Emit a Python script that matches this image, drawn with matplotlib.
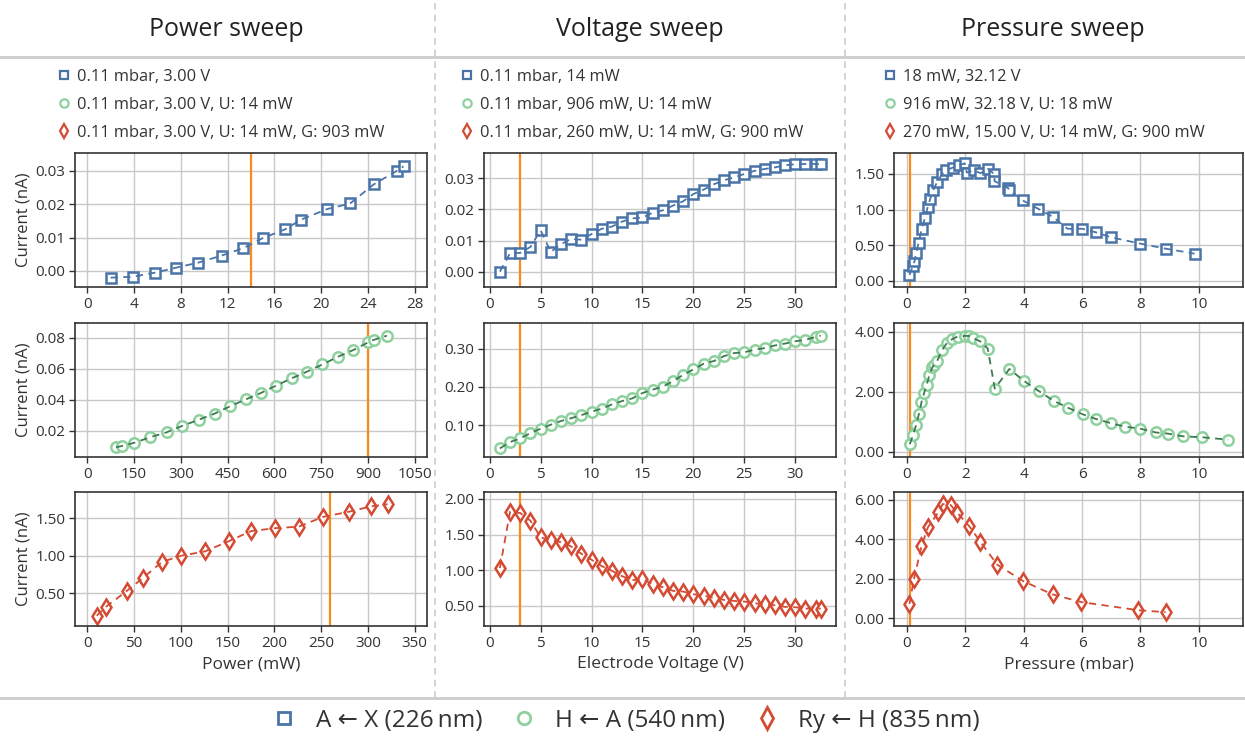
import matplotlib
matplotlib.use('Agg')
import matplotlib.pyplot as plt
from matplotlib.lines import Line2D
from matplotlib.ticker import FormatStrFormatter

plt.rcParams['font.family'] = ['Open Sans', 'DejaVu Sans']

# ---- data ----
# power sweep
pw_blue_x = [2.0, 3.94, 5.79, 7.62, 9.5, 11.49, 13.33, 15.0, 16.95, 18.26, 20.5, 22.49, 24.5, 26.5, 27.05]
pw_blue_y = [-0.0020, -0.0017, -0.0005, 0.0010, 0.0025, 0.0046, 0.0068, 0.0098, 0.0125, 0.0153,
             0.0185, 0.0202, 0.0259, 0.0300, 0.0313]
pw_green_x = [92, 111, 149, 202, 255, 304, 359, 409, 457, 508, 557, 605, 656, 705, 754, 804, 853, 901, 920, 961]
pw_green_y = [0.0092, 0.0100, 0.0120, 0.0157, 0.0189, 0.0230, 0.0271, 0.0310, 0.0356, 0.0401,
              0.0443, 0.0490, 0.0538, 0.0581, 0.0627, 0.0677, 0.0720, 0.0770, 0.0787, 0.0813]
pw_red_x = [10, 20, 42, 59, 80, 100, 126, 152, 175, 201, 226, 252, 280, 303, 321]
pw_red_y = [0.20, 0.32, 0.53, 0.70, 0.92, 1.00, 1.06, 1.20, 1.33, 1.37, 1.39, 1.52, 1.59, 1.66, 1.69]

# voltage sweep
volts = [1, 2, 3, 4, 5, 6, 7, 8, 9, 10, 11, 12, 13, 14, 15, 16, 17, 18, 19, 20,
         21, 22, 23, 24, 25, 26, 27, 28, 29, 30, 31, 32, 32.5]
vs_blue_y = [0.0001, 0.0060, 0.0061, 0.0080, 0.0133, 0.0064, 0.0089, 0.0106, 0.0103, 0.0121,
             0.0138, 0.0145, 0.0161, 0.0171, 0.0174, 0.0189, 0.0197, 0.0212, 0.0226, 0.0249,
             0.0263, 0.0280, 0.0293, 0.0302, 0.0313, 0.0323, 0.0329, 0.0334, 0.0341, 0.0344,
             0.0345, 0.0345, 0.0344]
vs_green_y = [0.0386, 0.0553, 0.0649, 0.0789, 0.0904, 0.1009, 0.1105, 0.118, 0.126, 0.135,
              0.143, 0.154, 0.163, 0.170, 0.184, 0.193, 0.201, 0.215, 0.232, 0.246,
              0.261, 0.268, 0.281, 0.289, 0.291, 0.298, 0.302, 0.309, 0.314, 0.320,
              0.324, 0.331, 0.335]
vs_red_y = [1.030, 1.822, 1.803, 1.695, 1.461, 1.419, 1.395, 1.334, 1.231, 1.147,
            1.058, 0.992, 0.917, 0.861, 0.875, 0.804, 0.762, 0.711, 0.701, 0.664,
            0.645, 0.612, 0.584, 0.570, 0.561, 0.537, 0.523, 0.509, 0.486, 0.481,
            0.462, 0.462, 0.462]

# pressure sweep
ps_blue_x = [0.09, 0.2, 0.26, 0.32, 0.40, 0.51, 0.62, 0.71, 0.80, 0.91, 1.04, 1.21, 1.34, 1.57, 1.80,
             1.98, 2.05, 2.31, 2.52, 2.77, 3.0, 3.0, 3.47, 3.51, 3.96, 4.5, 4.99, 5.5, 6.01, 6.47,
             6.99, 8.0, 8.86, 9.85]
ps_blue_y = [0.08, 0.20, 0.27, 0.39, 0.53, 0.73, 0.88, 1.03, 1.15, 1.28, 1.39, 1.50, 1.55, 1.59, 1.62,
             1.65, 1.52, 1.55, 1.51, 1.57, 1.50, 1.40, 1.30, 1.27, 1.13, 1.01, 0.90, 0.73, 0.73, 0.68,
             0.61, 0.52, 0.45, 0.38]
ps_green_x = [0.10, 0.22, 0.32, 0.41, 0.50, 0.59, 0.68, 0.77, 0.87, 0.93, 1.03, 1.20, 1.38, 1.55, 1.74,
              1.98, 2.12, 2.26, 2.51, 2.77, 3.01, 3.51, 4.00, 4.51, 5.03, 5.52, 6.03, 6.47, 6.98, 7.47,
              7.97, 8.52, 8.95, 9.46, 10.11, 11.0]
ps_green_y = [0.26, 0.58, 0.91, 1.25, 1.65, 1.96, 2.23, 2.56, 2.81, 2.90, 3.01, 3.38, 3.64, 3.75, 3.84,
              3.86, 3.86, 3.79, 3.68, 3.44, 2.11, 2.76, 2.37, 2.03, 1.70, 1.47, 1.25, 1.10, 0.96, 0.84,
              0.78, 0.65, 0.61, 0.52, 0.49, 0.41]
ps_red_x = [0.09, 0.24, 0.50, 0.72, 1.08, 1.23, 1.50, 1.73, 2.14, 2.52, 3.10, 3.99, 4.99, 5.98, 7.93, 8.86]
ps_red_y = [0.72, 1.96, 3.64, 4.60, 5.36, 5.78, 5.73, 5.33, 4.65, 3.86, 2.70, 1.87, 1.20, 0.81, 0.40, 0.30]

titles = ['Power sweep', 'Voltage sweep', 'Pressure sweep']
xlabels = ['Power (mW)', 'Electrode Voltage (V)', 'Pressure (mbar)']
col_legends = [
    ['0.11 mbar, 3.00 V', '0.11 mbar, 3.00 V, U: 14 mW', '0.11 mbar, 3.00 V, U: 14 mW, G: 903 mW'],
    ['0.11 mbar, 14 mW', '0.11 mbar, 906 mW, U: 14 mW', '0.11 mbar, 260 mW, U: 14 mW, G: 900 mW'],
    ['18 mW, 32.12 V', '916 mW, 32.18 V, U: 18 mW', '270 mW, 15.00 V, U: 14 mW, G: 900 mW'],
]
series_labels = ['A \u2190 X (226\u2009nm)', 'H \u2190 A (540\u2009nm)', 'Ry \u2190 H (835\u2009nm)']
marker_lines = [[14, 900, 260], [3, 3, 3], [0.11, 0.11, 0.11]]

data = [
    [(pw_blue_x, pw_blue_y), (pw_green_x, pw_green_y), (pw_red_x, pw_red_y)],
    [(volts, vs_blue_y), (volts, vs_green_y), (volts, vs_red_y)],
    [(ps_blue_x, ps_blue_y), (ps_green_x, ps_green_y), (ps_red_x, ps_red_y)],
]

# styling
mcolors = ['#4a74a8', '#8fd19e', '#d44a33']
lcolors = ['#4a74a8', '#3d7a4f', '#d44a33']
markers = ['s', 'o', 'd']
msizes = [7.5, 7.5, 8.5]
orange = '#fb8a1c'

xlims = [
    [(-1.05, 29.06), (-39.6, 1089.6), (-13.2, 363.2)],
    [(-0.56, 34.0)] * 3,
    [(-0.44, 11.51)] * 3,
]
xticks = [
    [range(0, 29, 4), range(0, 1051, 150), range(0, 351, 50)],
    [range(0, 31, 5)] * 3,
    [range(0, 11, 2)] * 3,
]
ylims = [
    [(-0.0048, 0.0353), (0.0029, 0.0895), (0.0625, 1.853)],
    [(-0.0048, 0.038), (0.016, 0.368), (0.218, 2.098)],
    [(-0.089, 1.795), (-0.167, 4.29), (-0.40, 6.39)],
]
yticks = [
    [[0, 0.01, 0.02, 0.03], [0.02, 0.04, 0.06, 0.08], [0.5, 1.0, 1.5]],
    [[0, 0.01, 0.02, 0.03], [0.1, 0.2, 0.3], [0.5, 1.0, 1.5, 2.0]],
    [[0, 0.5, 1.0, 1.5], [0, 2, 4], [0, 2, 4, 6]],
]

W, H = 1245, 740
fig = plt.figure(figsize=(W / 100, H / 100), dpi=100)

col_px = [(75, 427), (484, 836), (894, 1243)]
row_px = [(153, 287), (323, 457), (492, 626)]


def rect(l, r, t, b):
    return [l / W, 1 - b / H, (r - l) / W, (b - t) / H]


for c in range(3):
    for r in range(3):
        l, rr = col_px[c]
        t, b = row_px[r]
        ax = fig.add_axes(rect(l, rr, t, b))
        x, y = data[c][r]
        ax.grid(True, color='#c8c8c8', lw=1.0, zorder=0)
        ax.set_axisbelow(True)
        ax.axvline(marker_lines[c][r], color=orange, lw=1.6, zorder=1.5)
        ax.plot(x, y, ls='none', marker=markers[r], ms=msizes[r], mfc='white',
                mec=mcolors[r], mew=1.8, zorder=2)
        ax.plot(x, y, ls=(0, (4, 3)), color=lcolors[r], lw=1.3, zorder=3)
        ax.set_xlim(*xlims[c][r])
        ax.set_ylim(*ylims[c][r])
        ax.set_xticks(list(xticks[c][r]))
        ax.set_yticks(yticks[c][r])
        ax.yaxis.set_major_formatter(FormatStrFormatter('%.2f'))
        for s in ax.spines.values():
            s.set_color('#333333')
            s.set_linewidth(1.2)
        ax.tick_params(labelsize=11, colors='#333333', length=4, width=1, pad=3)
        if c == 0:
            ax.set_ylabel('Current (nA)', fontsize=12, color='#333333', labelpad=3)
        if r == 2:
            ax.set_xlabel(xlabels[c], fontsize=12.5, color='#333333', labelpad=4)

# column titles, separators
title_x = [226, 640, 1053]
for c in range(3):
    fig.text(title_x[c] / W, 1 - 30 / H, titles[c], ha='center', va='center',
             fontsize=18, color='#222222')

fig.add_artist(Line2D([0, 1], [1 - 57 / H, 1 - 57 / H], color='#cccccc', lw=2))
fig.add_artist(Line2D([0, 1], [1 - 698 / H, 1 - 698 / H], color='#cccccc', lw=2))
for xd in [435, 845]:
    fig.add_artist(Line2D([xd / W, xd / W], [1 - 698 / H, 1], color='#cccccc', lw=1.2,
                          ls=(0, (4, 3))))

# per-column legends
leg_left = [57, 460, 883]
for c in range(3):
    handles = [Line2D([], [], ls='none', marker=markers[i], ms=6 if i < 2 else 7,
                      mfc='white', mec=mcolors[i], mew=1.6) for i in range(3)]
    fig.legend(handles, col_legends[c], loc='upper left',
               bbox_to_anchor=(leg_left[c] / W, 1 - 69 / H), frameon=False,
               fontsize=11.8, handlelength=0.85, handletextpad=0.4, labelspacing=0.72,
               borderpad=0, borderaxespad=0, labelcolor='#333333')

# bottom legend
handles = [Line2D([], [], ls='none', marker=markers[i], ms=9 if i < 2 else 11,
                  mfc='white', mec=mcolors[i], mew=2) for i in range(3)]
fig.legend(handles, series_labels, loc='center', bbox_to_anchor=(626 / W, 1 - 721 / H),
           ncol=3, frameon=False, fontsize=17.5, handlelength=1.0, handletextpad=0.8,
           columnspacing=1.2, borderpad=0, labelcolor='#333333')

fig.savefig('out.png', dpi=100)
